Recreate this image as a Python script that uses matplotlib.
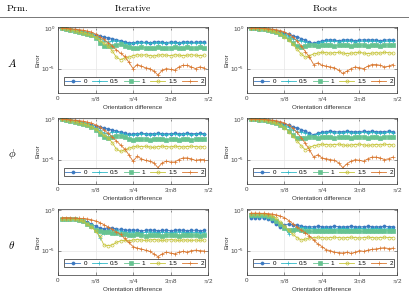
import numpy as np
import matplotlib
matplotlib.use("Agg")
import matplotlib.pyplot as plt

plt.rcParams['font.family'] = ['Liberation Sans', 'DejaVu Sans']
plt.rcParams['mathtext.fontset'] = 'cm'

# orientation difference grid (degrees)
deg = np.linspace(2.5, 87.5, 35)
x = np.deg2rad(deg)

labels = ['0', '0.5', '1', '1.5', '2']
colors = ['#3a78c0', '#2fb8c6', '#66c391', '#c6c43a', '#d9772e']
markers = ['o', '+', 's', 'o', '+']
filled = [True, True, True, False, True]

# log10(error), row A
A_it = [
    [-0.05,-0.12,-0.2,-0.3,-0.4,-0.5,-0.62,-0.75,-0.9,-1.0,-1.1,-1.2,-1.3,-1.45,-1.55,-1.7,-1.85,-1.8,-1.75,-1.72,-1.78,-1.8,-1.75,-1.7,-1.75,-1.8,-1.72,-1.75,-1.8,-1.75,-1.7,-1.78,-1.75,-1.72,-1.75],
    [-0.05,-0.12,-0.22,-0.32,-0.45,-0.55,-0.7,-0.85,-1.05,-1.3,-1.6,-1.75,-1.6,-1.55,-1.7,-1.85,-1.95,-1.9,-1.85,-1.8,-1.85,-1.9,-1.85,-1.8,-1.85,-1.9,-1.85,-1.82,-1.88,-1.85,-1.8,-1.9,-1.85,-1.82,-1.85],
    [-0.05,-0.12,-0.22,-0.35,-0.48,-0.6,-0.75,-0.9,-1.2,-1.8,-2.2,-2.25,-2.2,-2.1,-2.0,-2.2,-2.4,-2.5,-2.45,-2.4,-2.45,-2.5,-2.45,-2.4,-2.45,-2.5,-2.45,-2.4,-2.5,-2.45,-2.4,-2.5,-2.45,-2.4,-2.45],
    [-0.05,-0.12,-0.22,-0.35,-0.48,-0.6,-0.75,-0.9,-1.15,-1.5,-1.9,-2.2,-2.8,-3.6,-3.9,-3.7,-3.6,-3.4,-3.3,-3.35,-3.3,-3.4,-3.45,-3.35,-3.3,-3.35,-3.4,-3.3,-3.35,-3.4,-3.35,-3.3,-3.35,-3.4,-3.35],
    [-0.02,-0.05,-0.1,-0.15,-0.2,-0.28,-0.38,-0.5,-0.75,-1.1,-1.4,-1.8,-2.2,-2.7,-3.1,-3.5,-4.2,-5.0,-4.5,-4.7,-4.9,-5.0,-5.3,-5.8,-5.2,-5.0,-5.1,-5.2,-4.8,-4.6,-4.6,-4.8,-5.0,-4.8,-4.9],
]
A_ro = [
    [-0.02,-0.05,-0.08,-0.12,-0.18,-0.25,-0.35,-0.5,-0.65,-0.8,-0.95,-1.1,-1.3,-1.5,-1.75,-1.9,-1.7,-1.6,-1.5,-1.45,-1.5,-1.55,-1.5,-1.45,-1.5,-1.55,-1.5,-1.45,-1.5,-1.45,-1.5,-1.55,-1.5,-1.45,-1.5],
    [-0.02,-0.05,-0.1,-0.15,-0.22,-0.3,-0.42,-0.6,-0.8,-1.05,-1.3,-1.5,-1.6,-1.7,-1.9,-2.0,-1.8,-1.7,-1.65,-1.6,-1.65,-1.7,-1.65,-1.6,-1.65,-1.7,-1.65,-1.6,-1.65,-1.6,-1.65,-1.7,-1.65,-1.6,-1.65],
    [-0.02,-0.05,-0.1,-0.16,-0.25,-0.35,-0.5,-0.7,-1.0,-1.4,-1.9,-2.2,-2.3,-2.2,-2.1,-2.15,-2.2,-2.15,-2.1,-2.15,-2.2,-2.15,-2.1,-2.15,-2.2,-2.15,-2.1,-2.15,-2.2,-2.1,-2.15,-2.2,-2.15,-2.1,-2.15],
    [-0.02,-0.05,-0.1,-0.16,-0.25,-0.38,-0.55,-0.8,-1.1,-1.5,-2.0,-2.6,-3.2,-3.6,-3.4,-3.2,-3.1,-3.0,-3.05,-3.1,-3.05,-3.0,-3.1,-3.15,-3.1,-3.05,-3.0,-3.1,-3.15,-3.1,-3.05,-3.1,-3.0,-3.05,-3.1],
    [0.0,-0.02,-0.04,-0.07,-0.1,-0.15,-0.22,-0.32,-0.5,-0.75,-1.1,-1.6,-2.2,-2.9,-3.6,-4.5,-4.3,-4.6,-4.7,-4.8,-4.9,-5.2,-5.6,-5.3,-5.0,-4.8,-4.9,-5.0,-4.7,-4.5,-4.5,-4.6,-4.8,-4.7,-4.5],
]
# row phi
P_it = [
    [-0.05,-0.1,-0.18,-0.28,-0.38,-0.5,-0.6,-0.72,-0.85,-1.0,-1.1,-1.25,-1.35,-1.5,-1.6,-1.75,-1.9,-1.85,-1.8,-1.75,-1.8,-1.85,-1.8,-1.75,-1.8,-1.85,-1.8,-1.78,-1.85,-1.8,-1.75,-1.82,-1.8,-1.78,-1.8],
    [-0.05,-0.1,-0.2,-0.3,-0.42,-0.55,-0.7,-0.85,-1.1,-1.4,-1.7,-1.8,-1.65,-1.6,-1.75,-1.9,-2.0,-1.95,-1.9,-1.85,-1.9,-1.95,-1.9,-1.85,-1.9,-1.95,-1.9,-1.88,-1.92,-1.9,-1.85,-1.95,-1.9,-1.88,-1.9],
    [-0.05,-0.1,-0.2,-0.32,-0.45,-0.6,-0.75,-0.95,-1.3,-1.9,-2.25,-2.3,-2.2,-2.1,-2.05,-2.25,-2.45,-2.55,-2.5,-2.45,-2.5,-2.55,-2.5,-2.45,-2.5,-2.55,-2.5,-2.45,-2.55,-2.5,-2.45,-2.55,-2.5,-2.45,-2.5],
    [-0.05,-0.1,-0.2,-0.32,-0.45,-0.6,-0.75,-0.95,-1.2,-1.6,-2.0,-2.3,-2.9,-3.7,-4.0,-3.8,-3.6,-3.45,-3.35,-3.4,-3.35,-3.45,-3.5,-3.4,-3.35,-3.4,-3.45,-3.35,-3.4,-3.45,-3.4,-3.35,-3.4,-3.45,-3.4],
    [-0.02,-0.05,-0.1,-0.15,-0.2,-0.28,-0.38,-0.5,-0.72,-1.0,-1.35,-1.75,-2.2,-2.7,-3.2,-3.7,-4.4,-5.2,-4.6,-4.9,-5.1,-5.2,-5.4,-6.0,-5.4,-5.2,-5.3,-5.3,-5.0,-4.8,-4.8,-4.9,-5.1,-5.0,-5.0],
]
P_ro = [
    [-0.02,-0.05,-0.08,-0.12,-0.18,-0.26,-0.36,-0.5,-0.65,-0.8,-0.95,-1.1,-1.3,-1.5,-1.75,-1.95,-1.75,-1.65,-1.55,-1.5,-1.55,-1.6,-1.55,-1.5,-1.55,-1.6,-1.55,-1.5,-1.55,-1.5,-1.55,-1.6,-1.55,-1.5,-1.55],
    [-0.02,-0.05,-0.1,-0.15,-0.22,-0.3,-0.42,-0.6,-0.8,-1.05,-1.35,-1.55,-1.65,-1.75,-1.95,-2.05,-1.85,-1.75,-1.7,-1.65,-1.7,-1.75,-1.7,-1.65,-1.7,-1.75,-1.7,-1.65,-1.7,-1.65,-1.7,-1.75,-1.7,-1.65,-1.7],
    [-0.02,-0.05,-0.1,-0.16,-0.25,-0.35,-0.5,-0.7,-1.0,-1.45,-2.0,-2.3,-2.4,-2.3,-2.2,-2.25,-2.3,-2.25,-2.2,-2.25,-2.3,-2.25,-2.2,-2.25,-2.3,-2.25,-2.2,-2.25,-2.3,-2.2,-2.25,-2.3,-2.25,-2.2,-2.25],
    [-0.02,-0.05,-0.1,-0.16,-0.25,-0.38,-0.55,-0.8,-1.1,-1.55,-2.1,-2.7,-3.3,-3.8,-3.5,-3.3,-3.2,-3.1,-3.15,-3.2,-3.15,-3.1,-3.2,-3.25,-3.2,-3.15,-3.1,-3.2,-3.25,-3.2,-3.15,-3.2,-3.1,-3.15,-3.2],
    [0.0,-0.02,-0.04,-0.07,-0.1,-0.15,-0.22,-0.32,-0.5,-0.78,-1.15,-1.65,-2.3,-3.0,-3.8,-4.7,-4.4,-4.8,-4.9,-5.0,-5.1,-5.4,-6.0,-5.5,-5.2,-5.0,-5.1,-5.2,-4.9,-4.7,-4.7,-4.8,-5.0,-4.9,-4.7],
]
# row theta
T_it = [
    [-1.1,-1.1,-1.12,-1.15,-1.2,-1.3,-1.5,-1.75,-2.0,-2.2,-2.3,-2.2,-2.25,-2.3,-2.4,-2.45,-2.5,-2.45,-2.5,-2.55,-2.5,-2.45,-2.5,-2.55,-2.5,-2.5,-2.55,-2.5,-2.45,-2.5,-2.55,-2.5,-2.5,-2.55,-2.5],
    [-1.1,-1.1,-1.12,-1.15,-1.2,-1.35,-1.6,-1.9,-2.3,-3.4,-2.8,-2.5,-2.45,-2.5,-2.6,-2.7,-2.75,-2.7,-2.75,-2.8,-2.75,-2.7,-2.75,-2.8,-2.75,-2.75,-2.8,-2.75,-2.7,-2.75,-2.8,-2.75,-2.75,-2.8,-2.75],
    [-1.1,-1.1,-1.12,-1.15,-1.22,-1.4,-1.7,-2.0,-2.5,-2.6,-2.7,-2.75,-2.8,-2.85,-2.9,-3.0,-3.1,-3.05,-3.0,-3.1,-3.15,-3.1,-3.05,-3.1,-3.15,-3.1,-3.05,-3.1,-3.15,-3.1,-3.05,-3.1,-3.1,-3.15,-3.1],
    [-1.1,-1.1,-1.12,-1.15,-1.22,-1.4,-1.75,-2.1,-2.6,-3.2,-4.3,-4.4,-4.3,-4.0,-3.8,-3.75,-3.8,-3.7,-3.65,-3.7,-3.75,-3.7,-3.65,-3.7,-3.75,-3.7,-3.65,-3.7,-3.75,-3.7,-3.7,-3.75,-3.7,-3.75,-3.7],
    [-0.95,-0.95,-0.97,-1.0,-1.02,-1.05,-1.1,-1.2,-1.35,-1.55,-1.8,-2.1,-2.4,-2.7,-3.0,-3.5,-4.0,-4.5,-4.7,-4.8,-4.95,-5.1,-5.4,-5.75,-5.4,-5.2,-5.3,-5.4,-5.2,-5.1,-5.2,-5.0,-4.95,-5.0,-5.05],
]
T_ro = [
    [-0.95,-0.95,-0.97,-1.0,-1.1,-1.3,-1.7,-2.1,-1.8,-1.75,-1.8,-1.9,-2.0,-2.05,-2.1,-2.05,-2.0,-2.05,-2.1,-2.05,-2.0,-2.05,-2.1,-2.05,-2.0,-2.05,-2.1,-2.05,-2.0,-2.05,-2.1,-2.05,-2.0,-2.05,-2.05],
    [-0.8,-0.8,-0.82,-0.85,-0.95,-1.15,-1.5,-1.9,-2.2,-2.9,-2.4,-2.2,-2.15,-2.2,-2.25,-2.3,-2.35,-2.3,-2.25,-2.3,-2.35,-2.3,-2.25,-2.3,-2.35,-2.3,-2.25,-2.3,-2.35,-2.3,-2.25,-2.3,-2.35,-2.3,-2.3],
    [-0.6,-0.6,-0.62,-0.66,-0.75,-0.95,-1.3,-1.75,-2.2,-2.5,-2.45,-2.4,-2.5,-2.55,-2.6,-2.65,-2.6,-2.55,-2.6,-2.65,-2.6,-2.55,-2.6,-2.65,-2.6,-2.55,-2.6,-2.65,-2.6,-2.55,-2.6,-2.65,-2.6,-2.55,-2.6],
    [-0.45,-0.45,-0.47,-0.5,-0.58,-0.75,-1.05,-1.5,-2.0,-2.5,-3.0,-3.4,-3.7,-3.6,-3.45,-3.4,-3.35,-3.4,-3.45,-3.4,-3.35,-3.4,-3.45,-3.4,-3.35,-3.4,-3.45,-3.4,-3.35,-3.4,-3.45,-3.4,-3.35,-3.4,-3.4],
    [-0.4,-0.4,-0.41,-0.42,-0.45,-0.5,-0.6,-0.75,-0.95,-1.3,-1.7,-2.1,-2.5,-2.8,-3.2,-3.7,-4.2,-4.5,-4.9,-5.0,-5.2,-5.25,-5.3,-5.2,-5.35,-5.2,-5.0,-5.1,-4.95,-4.85,-4.8,-4.7,-4.65,-4.75,-4.7],
]

panels = [[A_it, A_ro], [P_it, P_ro], [T_it, T_ro]]
row_names = [r'$A$', r'$\phi$', r'$\theta$']

W, H = 410, 292
fig = plt.figure(figsize=(W / 100, H / 100), dpi=100)

col_x = [58, 247]
row_y = [27, 118, 209]
aw, ah = 150, 66

for r in range(3):
    for c in range(2):
        ax = fig.add_axes([col_x[c] / W, 1 - (row_y[r] + ah) / H, aw / W, ah / H])
        data = panels[r][c]
        for k in range(5):
            ax.semilogy(x, 10 ** np.array(data[k]), color=colors[k], lw=0.6,
                        marker=markers[k], ms=2.2, mew=0.5,
                        mfc=colors[k] if filled[k] else 'none',
                        label=labels[k])
        ax.set_xlim(0, np.pi / 2)
        ax.set_ylim(1e-8, 1.3)
        ax.set_yticks([1e-5, 1])
        ax.minorticks_off()
        ax.set_xticks([0, np.pi / 8, np.pi / 4, 3 * np.pi / 8, np.pi / 2])
        ax.set_xticklabels(['0', r'$\pi$/8', r'$\pi$/4', r'3$\pi$/8', r'$\pi$/2'])
        ax.grid(True, color='#e6e6e6', lw=0.5)
        ax.set_axisbelow(True)
        ax.tick_params(direction='in', length=2, width=0.4, labelsize=4.5,
                       colors='#444444', pad=2, top=True, right=True)
        for s in ax.spines.values():
            s.set_linewidth(0.5)
            s.set_color('#333333')
        ax.set_ylabel('Error', fontsize=4.5, color='#333333', labelpad=1)
        ax.set_xlabel('Orientation difference', fontsize=4.5, color='#333333', labelpad=1)
        leg = ax.legend(loc='lower center', ncol=5, fontsize=4.5, frameon=True,
                        fancybox=False, edgecolor='#222222', framealpha=1,
                        handlelength=2.4, columnspacing=0.8, handletextpad=0.5,
                        borderpad=0.25, bbox_to_anchor=(0.51, 0.07))
        leg.get_frame().set_linewidth(0.5)
    fig.text(12 / W, 1 - (row_y[r] + 36) / H, row_names[r], fontsize=8,
             ha='center', va='center')

fig.text(6 / W, 1 - 8 / H, r'$\mathrm{Prm.}$', fontsize=7, ha='left', va='center')
fig.text(133 / W, 1 - 8 / H, r'$\mathrm{Iterative}$', fontsize=7, ha='center', va='center')
fig.text(325 / W, 1 - 8 / H, r'$\mathrm{Roots}$', fontsize=7, ha='center', va='center')
fig.add_artist(plt.Line2D([0, 1], [1 - 16.5 / H, 1 - 16.5 / H], color='#777777', lw=0.7))

fig.savefig('out.png', dpi=100)
